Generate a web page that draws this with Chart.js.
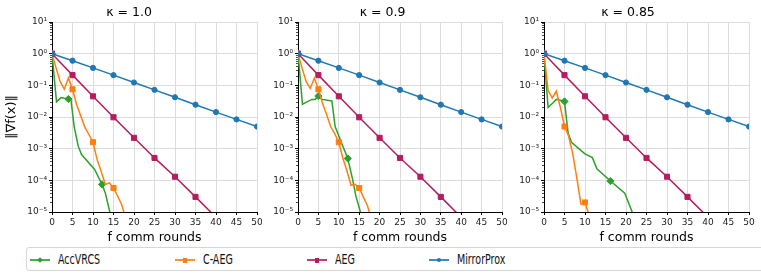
<!DOCTYPE html>
<html>
<head>
<meta charset="utf-8">
<script src="https://cdn.jsdelivr.net/npm/chart.js@4.4.1/dist/chart.umd.min.js"></script>
<style>
body{margin:0;background:#fff;width:761px;height:278px;overflow:hidden;position:relative;font-family:'DejaVu Sans',sans-serif;}
canvas{position:absolute;top:0;}
#legend{position:absolute;left:26px;top:247px;width:745px;height:24px;border:1px solid #d6d6d6;border-radius:3px;box-sizing:border-box;}
#legend .item{position:absolute;top:0;height:22px;}
#legend .line{position:absolute;left:0;top:11px;width:20px;height:2px;}
#legend .mk{position:absolute;}
#legend .txt{position:absolute;left:28px;top:2px;font-size:14px;line-height:18px;white-space:nowrap;color:#111;transform:scaleX(0.68);transform-origin:0 0;}
</style>
</head>
<body>
<canvas id="p1" width="262" height="245" style="left:0px"></canvas>
<canvas id="p2" width="245" height="245" style="left:262px"></canvas>
<canvas id="p3" width="254" height="245" style="left:507px"></canvas>
<div id="legend"></div>
<script>
var kappas = ['1.0', '0.9', '0.85'];
var xTicks = [0, 5, 10, 15, 20, 25, 30, 35, 40, 45, 50];
var yTicks = [1e-5, 1e-4, 1e-3, 1e-2, 1e-1, 1, 10];
var seriesNames = ['AccVRCS', 'C-AEG', 'AEG', 'MirrorProx'];

// MirrorProx and AEG look the same in every panel
var mpX = [0, 5, 10, 15, 20, 25, 30, 35, 40, 45, 50];
var mirrorProx = [1, 0.6, 0.355, 0.21, 0.123, 0.072, 0.042, 0.0245, 0.0143, 0.0084, 0.005];
var aegX = [0, 5, 10, 15, 20, 25, 30, 35, 40];
var aeg = [1, 0.21, 0.045, 0.0098, 0.0022, 0.00051, 0.00013, 0.00003, 0.0000068];

// C-AEG
var caegX1 = [0, 1, 2, 3, 4, 5, 6, 7, 8, 9, 10, 11, 12, 13, 14, 15, 16, 17, 18];
var caeg1 = [1, 0.35, 0.13, 0.075, 0.17, 0.075, 0.025, 0.011, 0.0048, 0.0028, 0.0016, 0.00045, 0.00019, 0.000074, 0.000083, 0.000057, 0.000032, 0.000017, 0.000006];
var caegX2 = [0, 1, 2, 3, 4, 5, 6, 7, 8, 9, 10, 11, 12, 13, 14, 15, 16, 17, 18];
var caeg2 = [1, 0.35, 0.13, 0.08, 0.17, 0.075, 0.027, 0.012, 0.005, 0.003, 0.0016, 0.0005, 0.0002, 0.00007, 0.000075, 0.000057, 0.00003, 0.000016, 0.000006];
var caegX3 = [0, 1, 2, 3, 4, 5, 6, 7, 8, 9, 10, 11];
var caeg3 = [1, 0.07, 0.04, 0.065, 0.02, 0.005, 0.0025, 0.0007, 0.00012, 0.000018, 0.00002, 0.000008];

// AccVRCS
var accX1 = [0, 1.1, 2.2, 3, 4, 4.6, 5.4, 6.4, 7.2, 10.4, 12.2, 13, 14.1, 14.6];
var acc1 = [1, 0.03, 0.041, 0.039, 0.037, 0.037, 0.005, 0.0012, 0.00065, 0.00022, 0.000074, 0.00004, 0.00001, 0.000005];
var accX2 = [0, 1.1, 2.2, 3.4, 4.2, 5, 5.9, 8.3, 9.1, 11, 12.2, 13.4, 14.2, 15.3, 15.7];
var acc2 = [1, 0.025, 0.03, 0.036, 0.036, 0.046, 0.036, 0.032, 0.005, 0.0012, 0.00049, 0.000105, 0.000031, 0.00001, 0.000006];
var accX3 = [0, 1, 2.2, 3, 4, 5, 5.9, 6.7, 9.9, 11.8, 12.9, 16.2, 19.7, 21.5, 22];
var acc3 = [1, 0.02, 0.028, 0.036, 0.034, 0.031, 0.003, 0.0016, 0.0007, 0.00052, 0.00023, 0.000095, 0.000039, 0.00001, 0.000006];

var F = "'DejaVu Sans', sans-serif";
var colors = ['#2ca02c', '#ff7f0e', '#b71c5f', '#1f77b4'];
var styles = ['rectRot', 'rect', 'rect', 'circle'];
var radii = [3.6, 3.6, 3.6, 2.6];

var sup = {'-': '\u207b', '0': '\u2070', '1': '\u00b9', '2': '\u00b2', '3': '\u00b3', '4': '\u2074', '5': '\u2075'};
function powLabel(v) {
	var e = String(Math.round(Math.log10(v)));
	var s = '';
	for (var i = 0; i < e.length; i++) s += sup[e[i]];
	return '10' + s;
}

function pts(xs, ys) {
	return xs.map(function(x, i){ return {x: x, y: ys[i]}; });
}

/* small log minor ticks on the y axis */
var minorTicks = {
	id: 'minorTicks',
	afterDraw: function(chart) {
		var y = chart.scales.y, ctx = chart.ctx, left = chart.chartArea.left;
		ctx.save();
		ctx.strokeStyle = '#000';
		ctx.lineWidth = 0.7;
		for (var d = -5; d < 1; d++) {
			for (var k = 2; k < 10; k++) {
				var p = Math.round(y.getPixelForValue(k * Math.pow(10, d))) + 0.5;
				ctx.beginPath();
				ctx.moveTo(left - 2, p);
				ctx.lineTo(left, p);
				ctx.stroke();
			}
		}
		ctx.restore();
	}
};

function dataset(n, data, marks) {
	return {
		label: seriesNames[n],
		data: data,
		order: 3 - n,
		borderColor: colors[n],
		backgroundColor: colors[n],
		borderWidth: 1.5,
		pointStyle: styles[n],
		pointBackgroundColor: colors[n],
		pointBorderColor: colors[n],
		pointBorderWidth: 1,
		pointRadius: function(c){ return marks(c) ? radii[n] : 0; },
		tension: 0
	};
}

function every5(c) { return c.raw && c.raw.x % 5 === 0; }

function makePanel(id, i, accX, acc, accMarks, caegX, caeg, yWidth, padRight) {
	var isFirst = (i === 0);
	new Chart(document.getElementById(id), {
		type: 'line',
		data: {
			datasets: [
				dataset(0, pts(accX, acc), function(c){ return accMarks.indexOf(c.dataIndex) >= 0; }),
				dataset(1, pts(caegX, caeg), every5),
				dataset(2, pts(aegX, aeg), every5),
				dataset(3, pts(mpX, mirrorProx), every5)
			]
		},
		options: {
			responsive: false,
			animation: false,
			events: [],
			layout: {padding: {left: 0, right: padRight, top: 0, bottom: 0}},
			plugins: {
				legend: {display: false},
				tooltip: {enabled: false},
				title: {
					display: true,
					text: '\u03ba = ' + kappas[i],
					color: '#000',
					font: {family: F, size: 12.5, weight: 'normal', lineHeight: 1.2},
					padding: {top: 5, bottom: 2}
				}
			},
			scales: {
				x: {
					type: 'linear',
					min: 0,
					max: 50,
					afterBuildTicks: function(s){ s.ticks = xTicks.map(function(v){ return {value: v}; }); },
					afterFit: function(s){ s.height = 33; s.paddingLeft = 0; s.paddingRight = 0; },
					grid: {color: '#dcdcdc', lineWidth: 1, tickColor: '#000', tickLength: 3},
					border: {color: '#000', width: 1},
					ticks: {color: '#222', font: {family: F, size: 9}, padding: 2, maxRotation: 0, autoSkip: false},
					title: {display: true, text: 'f comm rounds', color: '#000', font: {family: F, size: 12.5}, padding: {top: 1, bottom: 0}}
				},
				y: {
					type: 'logarithmic',
					min: 1e-5,
					max: 10,
					afterBuildTicks: function(s){ s.ticks = yTicks.map(function(v){ return {value: v, major: true}; }); },
					afterFit: function(s){ s.width = yWidth; s.paddingTop = 0; s.paddingBottom = 0; },
					grid: {color: '#dcdcdc', lineWidth: 1, tickColor: '#000', tickLength: 3},
					border: {color: '#000', width: 1},
					ticks: {color: '#222', font: {family: F, size: 9}, padding: 2, autoSkip: false, callback: function(v){ return powLabel(v); }},
					title: {display: isFirst, text: '\u2016\u2207f(x)\u2016', color: '#000', font: {family: F, size: 13}, padding: {top: 4, bottom: 0}}
				}
			}
		},
		plugins: [minorTicks]
	});
}

makePanel('p1', 0, accX1, acc1, [0, 4, 10], caegX1, caeg1, 52, 4);
makePanel('p2', 1, accX2, acc2, [0, 5, 10], caegX2, caeg2, 36, 4);
makePanel('p3', 2, accX3, acc3, [0, 5, 11], caegX3, caeg3, 37, 12);

/* legend across the bottom, squeezed like the original */
var legendLeft = [3, 148, 280, 402];
var shapes = ['diamond', 'square', 'square', 'circle'];
var legend = document.getElementById('legend');
seriesNames.forEach(function(name, n){
	var item = document.createElement('div');
	item.className = 'item';
	item.style.left = legendLeft[n] + 'px';
	var line = document.createElement('div');
	line.className = 'line';
	line.style.background = colors[n];
	line.style.opacity = 0.85;
	item.appendChild(line);
	var mk = document.createElement('div');
	mk.className = 'mk';
	mk.style.background = colors[n];
	if (shapes[n] === 'circle') {
		mk.style.cssText += 'left:8px;top:10px;width:4px;height:4px;border-radius:50%;';
	} else if (shapes[n] === 'diamond') {
		mk.style.cssText += 'left:8px;top:10px;width:4px;height:4px;transform:rotate(45deg);';
	} else {
		mk.style.cssText += 'left:8px;top:9.5px;width:4px;height:5px;';
	}
	item.appendChild(mk);
	var txt = document.createElement('div');
	txt.className = 'txt';
	txt.textContent = name;
	item.appendChild(txt);
	legend.appendChild(item);
});
</script>
</body>
</html>
